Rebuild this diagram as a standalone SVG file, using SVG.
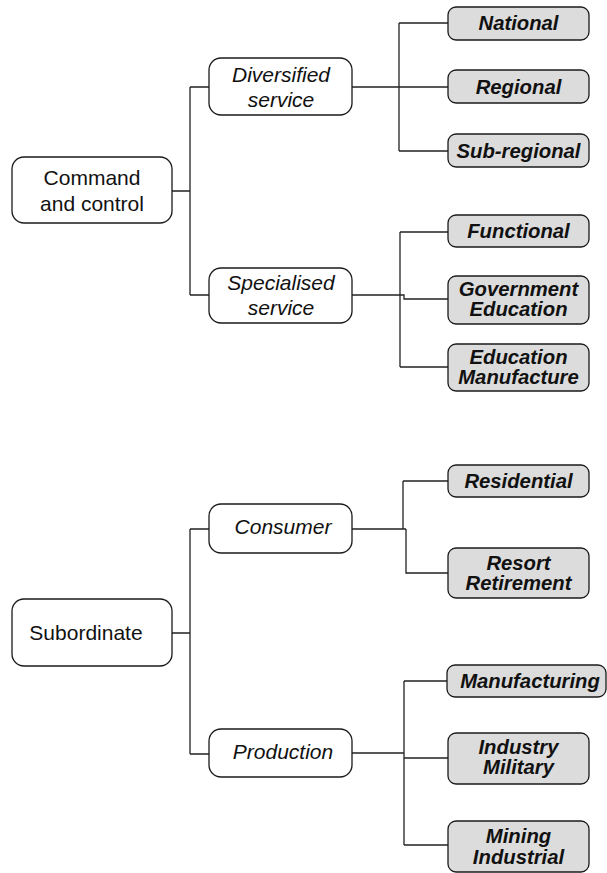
<svg xmlns="http://www.w3.org/2000/svg" width="607" height="873" viewBox="0 0 607 873">
<style>
.box{fill:#fff;stroke:#1a1a1a;stroke-width:1.3}
.leaf{fill:#dcdcdc;stroke:#1a1a1a;stroke-width:1.3}
.t{font-family:"Liberation Sans",Arial,sans-serif;font-size:21px;text-anchor:middle;fill:#111}
.i{font-style:italic}
.b{font-family:"Liberation Sans",Arial,sans-serif;font-size:20.3px;font-weight:bold;font-style:italic;text-anchor:middle;fill:#111}
.c{fill:none;stroke:#222;stroke-width:1.3}
</style>
<rect width="607" height="873" fill="#fff"/>
<g id="connectors">
<path class="c" d="M172,191H190M190,87V295M190,87H209M190,295H209"/>
<path class="c" d="M352,87H448M399,23V151M399,23H448M399,151H448"/>
<path class="c" d="M352,295H404V299H448M400,232V367M400,232H448M400,367H448"/>
<path class="c" d="M172,633H190M190,529V754M190,529H209M190,754H209"/>
<path class="c" d="M352,529H406M403,481V529M403,481H448M406,529V573H448"/>
<path class="c" d="M352,753H404M404,681V845M404,681H447M404,758H448M404,845H448"/>
</g>
<g id="command"><rect class="box" x="12" y="157" width="160" height="66" rx="12"/><text class="t" x="92" y="185">Command</text><text class="t" x="92" y="211">and control</text></g>
<g id="diversified"><rect class="box" x="209" y="58" width="143" height="57" rx="12"/><text class="t i" x="281" y="81.5">Diversified</text><text class="t i" x="281" y="106.5">service</text></g>
<g id="specialised"><rect class="box" x="209" y="268" width="143" height="55" rx="12"/><text class="t i" x="281" y="290">Specialised</text><text class="t i" x="281" y="315">service</text></g>
<g id="national"><rect class="leaf" x="448" y="7" width="141" height="33" rx="8"/><text class="b" x="518.5" y="30">National</text></g>
<g id="regional"><rect class="leaf" x="448" y="70" width="141" height="33" rx="8"/><text class="b" x="518.5" y="94">Regional</text></g>
<g id="subregional"><rect class="leaf" x="448" y="134" width="141" height="33" rx="8"/><text class="b" x="518.5" y="157.5">Sub-regional</text></g>
<g id="functional"><rect class="leaf" x="448" y="215" width="141" height="32" rx="8"/><text class="b" x="518.5" y="238">Functional</text></g>
<g id="goveducation"><rect class="leaf" x="448" y="276" width="141" height="48" rx="8"/><text class="b" x="518.5" y="296">Government</text><text class="b" x="518.5" y="316">Education</text></g>
<g id="edumanufacture"><rect class="leaf" x="448" y="344" width="141" height="47" rx="8"/><text class="b" x="518.5" y="364">Education</text><text class="b" x="518.5" y="384">Manufacture</text></g>
<g id="subordinate"><rect class="box" x="12" y="599" width="160" height="67" rx="12"/><text class="t" x="86" y="640">Subordinate</text></g>
<g id="consumer"><rect class="box" x="209" y="504" width="143" height="49" rx="12"/><text class="t i" x="283" y="533.5">Consumer</text></g>
<g id="production"><rect class="box" x="209" y="729" width="143" height="48" rx="12"/><text class="t i" x="283" y="758.5">Production</text></g>
<g id="residential"><rect class="leaf" x="448" y="465" width="141" height="32" rx="8"/><text class="b" x="518.5" y="488">Residential</text></g>
<g id="resort"><rect class="leaf" x="448" y="548" width="141" height="50" rx="8"/><text class="b" x="518.5" y="570">Resort</text><text class="b" x="518.5" y="590">Retirement</text></g>
<g id="manufacturing"><rect class="leaf" x="447" y="665" width="159" height="32" rx="8"/><text class="b" x="530" y="687.5">Manufacturing</text></g>
<g id="industry"><rect class="leaf" x="448" y="733" width="141" height="51" rx="8"/><text class="b" x="518.5" y="753.5">Industry</text><text class="b" x="518.5" y="773.5">Military</text></g>
<g id="mining"><rect class="leaf" x="448" y="821" width="141" height="51" rx="8"/><text class="b" x="518.5" y="843">Mining</text><text class="b" x="518.5" y="864">Industrial</text></g>
</svg>
